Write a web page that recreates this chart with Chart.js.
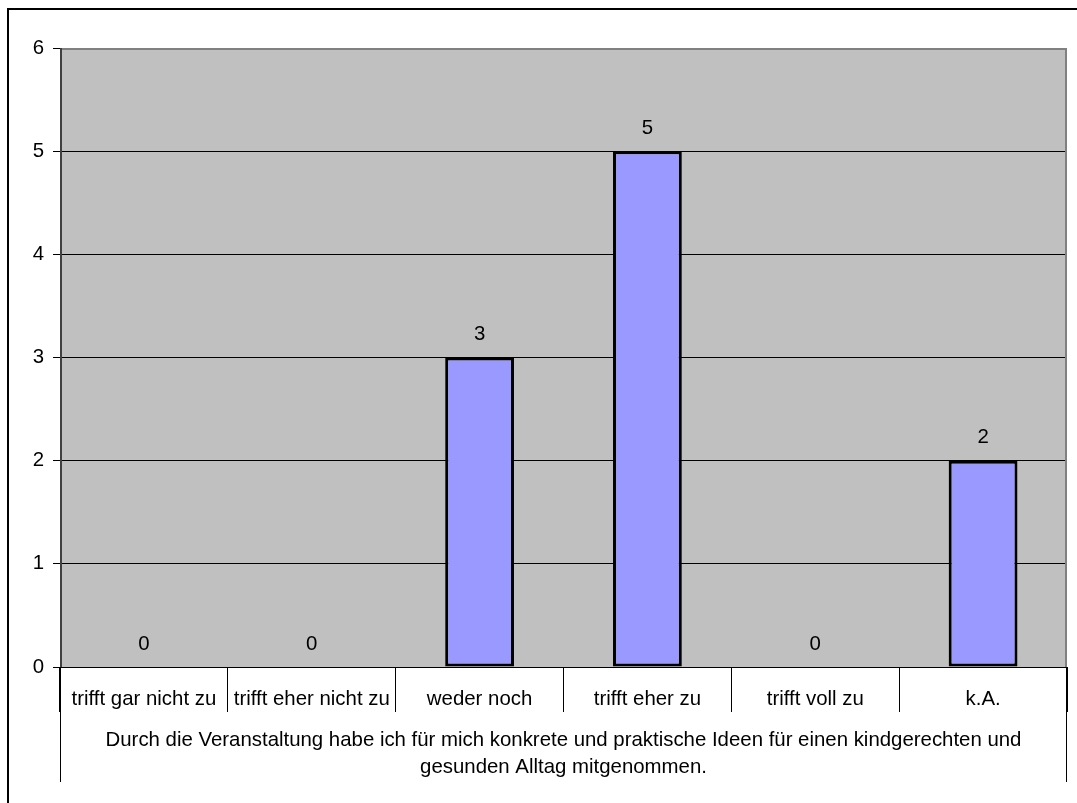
<!DOCTYPE html>
<html>
<head>
<meta charset="utf-8">
<script src="https://cdn.jsdelivr.net/npm/chart.js@4.4.1/dist/chart.umd.min.js"></script>
<style>
  html, body { margin: 0; padding: 0; background: #fff; }
  canvas { display: block; }
</style>
</head>
<body>
<canvas id="surveyChart" width="1077" height="803"></canvas>
<script>
// --- Data ---
const answers = ['trifft gar nicht zu', 'trifft eher nicht zu', 'weder noch', 'trifft eher zu', 'trifft voll zu', 'k.A.'];
const counts = [0, 0, 3, 5, 0, 2];
const question = [
    'Durch die Veranstaltung habe ich für mich konkrete und praktische Ideen für einen kindgerechten und',
    'gesunden Alltag mitgenommen.'
];
const yTicks = [0, 1, 2, 3, 4, 5, 6];

const FONT = '"Liberation Sans", Arial, sans-serif';
const FONT_SIZE = 20.4;

// --- Plot background (grey area) ---
const plotBackground = {
    id: 'plotBackground',
    beforeDraw(chart) {
        const a = chart.chartArea;
        const ctx = chart.ctx;
        ctx.save();
        ctx.fillStyle = '#c0c0c0';
        ctx.fillRect(a.left, a.top, a.right - a.left, a.bottom - a.top);
        ctx.restore();
    }
};

// --- Value labels above the bars ---
const valueLabels = {
    id: 'valueLabels',
    afterDatasetsDraw(chart) {
        const ctx = chart.ctx;
        const meta = chart.getDatasetMeta(0);
        ctx.save();
        ctx.font = FONT_SIZE + 'px ' + FONT;
        ctx.fillStyle = '#000';
        ctx.textAlign = 'center';
        ctx.textBaseline = 'middle';
        meta.data.forEach((bar, i) => {
            ctx.fillText(String(counts[i]), bar.x, bar.y - 23);
        });
        ctx.restore();
    }
};

// --- Frame: plot border, long category lines, outer border ---
const frameLines = {
    id: 'frameLines',
    afterDraw(chart) {
        const a = chart.chartArea;
        const ctx = chart.ctx;
        ctx.save();
        // grey border top + right of plot area
        ctx.strokeStyle = '#808080';
        ctx.lineWidth = 2;
        ctx.beginPath();
        ctx.moveTo(a.left, a.top + 1);
        ctx.lineTo(a.right - 1, a.top + 1);
        ctx.lineTo(a.right - 1, a.bottom);
        ctx.stroke();
        // value axis line, a bit heavier
        ctx.strokeStyle = '#404040';
        ctx.beginPath();
        ctx.moveTo(a.left + 1, a.top);
        ctx.lineTo(a.left + 1, a.bottom);
        ctx.stroke();
        // outer lines of the category table
        ctx.strokeStyle = '#000';
        ctx.lineWidth = 1;
        ctx.beginPath();
        ctx.moveTo(a.left + 0.5, a.bottom);
        ctx.lineTo(a.left + 0.5, 782);
        ctx.moveTo(a.right - 0.5, a.bottom);
        ctx.lineTo(a.right - 0.5, 782);
        ctx.stroke();
        // outer chart border
        ctx.lineWidth = 2;
        ctx.strokeRect(8, 9, 1200, 900);
        ctx.restore();
    }
};

const ctx = document.getElementById('surveyChart').getContext('2d');

new Chart(ctx, {
    type: 'bar',
    data: {
        labels: answers,
        datasets: [{
            data: counts,
            backgroundColor: '#9999ff',
            borderColor: '#000',
            borderWidth: 3,
            borderSkipped: false,
            categoryPercentage: 1,
            barPercentage: 0.41
        }]
    },
    options: {
        responsive: false,
        animation: false,
        devicePixelRatio: 1,
        layout: {
            padding: { top: 48, right: 10, bottom: 0, left: 0 }
        },
        plugins: {
            legend: { display: false },
            tooltip: { enabled: false }
        },
        scales: {
            y: {
                min: 0,
                max: 6,
                afterFit(scale) { scale.width = 60; },
                afterBuildTicks(scale) { scale.ticks = yTicks.map(v => ({ value: v })); },
                ticks: {
                    stepSize: 1,
                    color: '#000',
                    padding: 9,
                    font: { family: FONT, size: FONT_SIZE }
                },
                grid: {
                    color: '#000',
                    lineWidth: 1,
                    tickLength: 7
                },
                border: { display: true, color: '#000', width: 1 }
            },
            x: {
                afterFit(scale) { scale.height = 136; },
                ticks: {
                    color: '#000',
                    padding: -25,
                    maxRotation: 0,
                    autoSkip: false,
                    font: { family: FONT, size: FONT_SIZE }
                },
                grid: {
                    offset: true,
                    drawOnChartArea: false,
                    drawTicks: true,
                    tickLength: 45,
                    color: '#000',
                    lineWidth: 1
                },
                border: { display: true, color: '#000', width: 1 },
                title: {
                    display: true,
                    text: question,
                    color: '#000',
                    font: { family: FONT, size: FONT_SIZE, lineHeight: 1.28 },
                    padding: { top: 0, bottom: 23 }
                }
            }
        }
    },
    plugins: [plotBackground, valueLabels, frameLines]
});
</script>
</body>
</html>
